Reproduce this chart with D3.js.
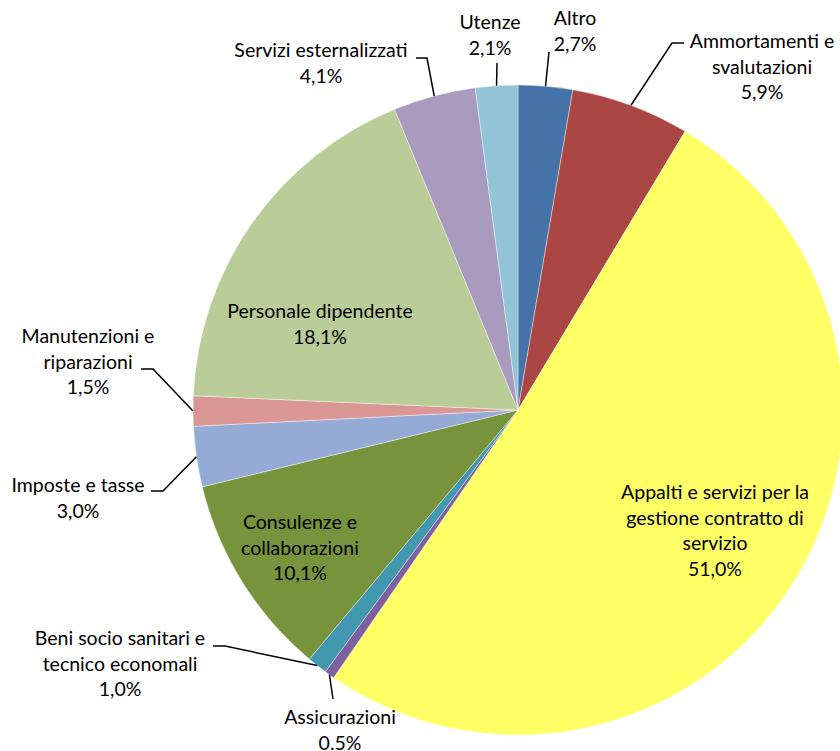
<!DOCTYPE html>
<html>
<head>
<meta charset="utf-8">
<script src="https://cdn.jsdelivr.net/npm/d3@7"></script>
<style>
  body { margin: 0; background: #fff; }
  text { font-family: Lato, "Open Sans", sans-serif; font-size: 19.5px; fill: #000; }
</style>
</head>
<body>
<svg></svg>
<script>
// slices, clockwise from 12 o'clock
var categories = [
  "Altro",
  "Ammortamenti e svalutazioni",
  "Appalti e servizi per la gestione contratto di servizio",
  "Assicurazioni",
  "Beni socio sanitari e tecnico economali",
  "Consulenze e collaborazioni",
  "Imposte e tasse",
  "Manutenzioni e riparazioni",
  "Personale dipendente",
  "Servizi esternalizzati",
  "Utenze"
];
var values = [2.7, 5.9, 51.0, 0.5, 1.0, 10.1, 3.0, 1.5, 18.1, 4.1, 2.1];
// label text as printed (line breaks as in the chart)
var labelLines = [
  ["Altro", "2,7%"],
  ["Ammortamenti e", "svalutazioni", "5,9%"],
  ["Appalti e servizi per la", "gestione contratto di", "servizio", "51,0%"],
  ["Assicurazioni", "0.5%"],
  ["Beni socio sanitari e", "tecnico economali", "1,0%"],
  ["Consulenze e", "collaborazioni", "10,1%"],
  ["Imposte e tasse", "3,0%"],
  ["Manutenzioni e", "riparazioni", "1,5%"],
  ["Personale dipendente", "18,1%"],
  ["Servizi esternalizzati", "4,1%"],
  ["Utenze", "2,1%"]
];
var colors = ["#4572a7", "#aa4643", "#ffff66", "#7d60a0", "#4198af", "#77933c",
              "#95abd5", "#d99694", "#bacd98", "#a99bbd", "#93c4d6"];

// label placement: text centre x, first baseline y, optional elbow point for the leader line
var labelPos = [
  { x: 575, y: 25, elbow: [549, 52] },
  { x: 762, y: 48, elbow: [672, 43], end: [684, 43] },
  { x: 715, y: 499 },
  { x: 340, y: 724, elbow: [333, 699] },
  { x: 120, y: 645, elbow: [225, 646], end: [213, 646] },
  { x: 300, y: 529 },
  { x: 78, y: 492, elbow: [163, 491], end: [151, 491] },
  { x: 88, y: 343, elbow: [153, 369], end: [141, 369] },
  { x: 320, y: 318 },
  { x: 321, y: 57, elbow: [427, 58], end: [416, 58] },
  { x: 490, y: 29, elbow: [497, 63] }
];

var width = 840, height = 751;
var cx = 518, cy = 410, radius = 325;
var lineH = 25.5;

var svg = d3.select("svg").attr("width", width).attr("height", height);

var pie = d3.pie().sort(null).value(function (d) { return d; });
var arcs = pie(values);

var arc = d3.arc().innerRadius(0).outerRadius(radius);
var edgeArc = d3.arc().innerRadius(radius).outerRadius(radius);

var g = svg.append("g").attr("transform", "translate(" + cx + "," + cy + ")");

g.selectAll("path.slice")
  .data(arcs)
  .enter()
  .append("path")
  .attr("class", "slice")
  .attr("d", arc)
  .attr("fill", function (d, i) { return colors[i]; })
  .attr("stroke", "#ffffff")
  .attr("stroke-width", 0.4);

// leader lines for labels sitting outside the pie
arcs.forEach(function (d, i) {
  var p = labelPos[i];
  if (!p.elbow) return;
  var start = edgeArc.centroid(d);
  var pts = [[start[0] + cx, start[1] + cy], p.elbow];
  if (p.end) pts.push(p.end);
  svg.append("path")
    .attr("d", d3.line()(pts))
    .attr("fill", "none")
    .attr("stroke", "#000")
    .attr("stroke-width", 1.5);
});

var labels = svg.selectAll("text.lbl")
  .data(arcs)
  .enter()
  .append("text")
  .attr("class", "lbl")
  .attr("text-anchor", "middle")
  .attr("transform", function (d, i) {
    return "translate(" + labelPos[i].x + "," + labelPos[i].y + ")";
  });

labels.selectAll("tspan")
  .data(function (d, i) { return labelLines[i]; })
  .enter()
  .append("tspan")
  .attr("x", 0)
  .attr("y", function (t, j) { return j * lineH; })
  .text(function (t) { return t; });
</script>
</body>
</html>
